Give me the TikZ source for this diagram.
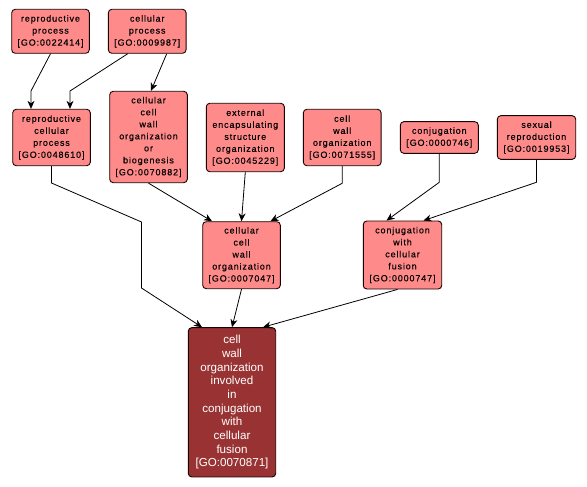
\documentclass[tikz,border=0pt]{standalone}
\usepackage{fontspec}
\setmainfont{Liberation Sans}
\newfontfamily\smallf[LetterSpace=9.5,FakeBold=0.2]{Liberation Sans}
\usetikzlibrary{arrows.meta}
\definecolor{lightgo}{HTML}{FF8A8A}
\definecolor{darkgo}{HTML}{993333}
\definecolor{edgeblk}{HTML}{1A0000}
\tikzset{
  gobox/.style={draw=edgeblk, line width=0.9pt, rounded corners=3.5pt, fill=lightgo, inner sep=0pt, align=center, font=\smallf\fontsize{9}{12}\selectfont, text=black},
  mainbox/.style={draw=edgeblk, line width=0.9pt, rounded corners=3.5pt, fill=darkgo, inner sep=0pt, align=center, font=\fontsize{11.6}{13.7}\selectfont, text=white},
  arr/.style={draw=black, line width=0.8pt, -{Stealth[length=8pt,width=7pt,inset=2.5pt]}},
}
\begin{document}
\begin{tikzpicture}[x=1pt,y=-1pt]
\useasboundingbox (0,0) rectangle (587,487);
\fill[white] (0,0) rectangle (587,487);
\node[gobox, minimum width=77.6pt, minimum height=44pt] (n1) at (50.5,31.3) {reproductive\\process\\{[}GO:0022414{]}};
\node[gobox, minimum width=77.7pt, minimum height=44pt] (n2) at (147.2,31.3) {cellular\\process\\{[}GO:0009987{]}};
\node[gobox, minimum width=77.6pt, minimum height=56.4pt] (n3) at (51.5,137.5) {reproductive\\cellular\\process\\{[}GO:0048610{]}};
\node[gobox, minimum width=77.6pt, minimum height=91.4pt] (n4) at (148.5,137) {cellular\\cell\\wall\\organization\\or\\biogenesis\\{[}GO:0070882{]}};
\node[gobox, minimum width=78pt, minimum height=68.4pt] (n5) at (245.3,137.5) {external\\encapsulating\\structure\\organization\\{[}GO:0045229{]}};
\node[gobox, minimum width=77.7pt, minimum height=56.4pt] (n6) at (342.2,137.5) {cell\\wall\\organization\\{[}GO:0071555{]}};
\node[gobox, minimum width=78pt, minimum height=31.6pt] (n7) at (439.3,137.5) {conjugation\\{[}GO:0000746{]}};
\node[gobox, minimum width=78.4pt, minimum height=43.6pt] (n8) at (536.5,137.5) {sexual\\reproduction\\{[}GO:0019953{]}};
\node[gobox, minimum width=77.6pt, minimum height=67pt] (n9) at (241.5,255.2) {cellular\\cell\\wall\\organization\\{[}GO:0007047{]}};
\node[gobox, minimum width=78.4pt, minimum height=68pt] (n10) at (402.5,255) {conjugation\\with\\cellular\\fusion\\{[}GO:0000747{]}};
\node[mainbox, minimum width=87.4pt, minimum height=149.3pt] (n11) at (232,402.3) {cell\\wall\\organization\\involved\\in\\conjugation\\with\\cellular\\fusion\\{[}GO:0070871{]}};
\draw[arr] (n1.south) -- (31,91) -- ([xshift=-20.5pt]n3.north);
\draw[arr] ([xshift=-19.5pt]n2.south) -- (70,91) -- ([xshift=18.5pt]n3.north);
\draw[arr] ([xshift=19.5pt]n2.south) -- ([xshift=2.5pt]n4.north);
\draw[arr] (n3.south) -- (51.5,183) -- (141.5,222) -- (141.5,288) -- ([xshift=-30pt]n11.north);
\draw[arr] (n4.south) -- ([xshift=-29.5pt]n9.north);
\draw[arr] (n5.south) -- (n9.north);
\draw[arr] (n6.south) -- (342.2,183.3) -- ([xshift=29pt]n9.north);
\draw[arr] (n7.south) -- (439.3,182.3) -- ([xshift=-16pt]n10.north);
\draw[arr] (n8.south) -- (536.5,182.3) -- ([xshift=21pt]n10.north);
\draw[arr] (n9.south) -- (n11.north);
\draw[arr] ([xshift=-5pt]n10.south) -- ([xshift=31pt]n11.north);
\end{tikzpicture}
\end{document}
